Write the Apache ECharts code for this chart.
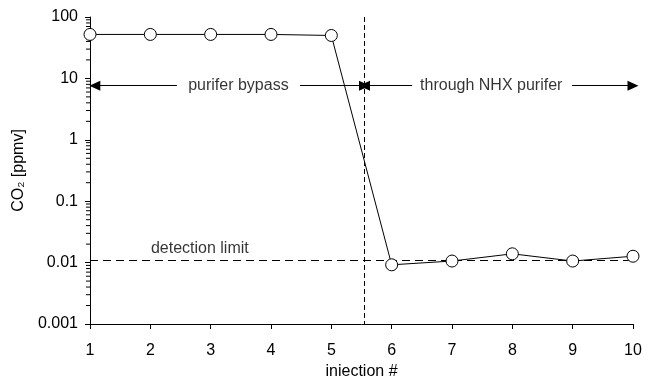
<!DOCTYPE html>
<html><head><meta charset="utf-8">
<script src="https://cdn.jsdelivr.net/npm/echarts@6/dist/echarts.min.js"></script>
<style>html,body{margin:0;padding:0;background:#fff}#c{width:648px;height:376px}</style>
</head><body><div id="c"></div>
<script>
const injections = [1, 2, 3, 4, 5, 6, 7, 8, 9, 10];
const co2 = [52, 52, 52, 52, 50, 0.0092, 0.0106, 0.0139, 0.0106, 0.0127];
const yTicks = [0.001, 0.01, 0.1, 1, 10, 100];
const detectionLimit = 0.0111;
const switchPoint = 5.55;
const arrowLevel = 7.6;
const labels = { bypass: 'purifer bypass', through: 'through NHX purifer', detection: 'detection limit' };

const minorVals = [];
for (let k = 0; k < yTicks.length - 1; k++) {
  for (let m = 2; m <= 9; m++) minorVals.push([1, m * yTicks[k]]);
}
const font = '"Liberation Sans", Arial, sans-serif';
const ink = '#000';

const seg = (a, b, symA, symB) => [
  { coord: a, symbol: symA, symbolSize: [10, 11] },
  { coord: b, symbol: symB, symbolSize: [10, 11] }
];

const option = {
  animation: false,
  grid: { left: 90, right: 15, top: 17, bottom: 52, containLabel: false, outerBoundsMode: 'none' },
  xAxis: {
    type: 'value', min: 1, max: 10, interval: 1,
    name: 'iniection #', nameLocation: 'middle', nameGap: 37,
    nameTextStyle: { fontFamily: font, fontSize: 16, color: ink },
    axisLine: { lineStyle: { color: ink, width: 1 } },
    axisTick: { inside: false, length: 5, lineStyle: { color: ink } },
    axisLabel: { margin: 19, fontFamily: font, fontSize: 16, color: ink },
    splitLine: { show: false }
  },
  yAxis: {
    type: 'log', logBase: 10, min: 0.001, max: 100,
    name: 'CO₂ [ppmv]', nameLocation: 'middle', nameGap: 57,
    nameTextStyle: { fontFamily: font, fontSize: 16, color: ink },
    axisLine: { show: true, lineStyle: { color: ink, width: 1 } },
    axisTick: { show: true, inside: false, length: 5, lineStyle: { color: ink } },
    axisLabel: {
      margin: 12, fontFamily: font, fontSize: 16, color: ink,
      formatter: v => { const i = yTicks.findIndex(t => Math.abs(t - v) / t < 1e-6); return i >= 0 ? String(yTicks[i]) : ''; }
    },
    splitLine: { show: false }
  },
  series: [
    {
      type: 'custom', silent: true, data: minorVals, clip: false,
      encode: { x: 0, y: 1 },
      renderItem: (params, api) => {
        const p = api.coord([api.value(0), api.value(1)]);
        return { type: 'line', shape: { x1: p[0], y1: p[1], x2: p[0] - 4, y2: p[1] }, style: { stroke: ink, lineWidth: 1 } };
      },
      z: 1
    },
    {
      type: 'line', silent: true,
      data: injections.map((x, i) => [x, co2[i]]),
      symbol: 'circle', symbolSize: 12,
      lineStyle: { color: ink, width: 1 },
      itemStyle: { color: '#fff', borderColor: ink, borderWidth: 1 },
      z: 5,
      markLine: {
        silent: true, animation: false, label: { show: false },
        data: [
          [{ coord: [1, detectionLimit], symbol: 'none', lineStyle: { type: [8, 5], color: ink, width: 1 } }, { coord: [10, detectionLimit], symbol: 'none' }],
          [{ coord: [switchPoint, 100], symbol: 'none', lineStyle: { type: [5, 3], color: ink, width: 1 } }, { coord: [switchPoint, 0.001], symbol: 'none' }]
        ]
      }
    },
    {
      type: 'line', silent: true, data: [], z: 4,
      markLine: {
        silent: true, animation: false, label: { show: false },
        lineStyle: { type: 'solid', color: ink, width: 1 },
        itemStyle: { color: ink },
        data: [
          seg([1.08, arrowLevel], [2.44, arrowLevel], 'triangle', 'none'),
          seg([4.48, arrowLevel], [switchPoint, arrowLevel], 'none', 'triangle'),
          seg([switchPoint, arrowLevel], [6.34, arrowLevel], 'triangle', 'none'),
          seg([8.99, arrowLevel], [10, arrowLevel], 'none', 'triangle')
        ]
      }
    },
    {
      type: 'scatter', silent: true, symbolSize: 0, z: 6,
      data: [
        { value: [3.46, arrowLevel], name: labels.bypass },
        { value: [7.65, arrowLevel], name: labels.through }
      ],
      label: { show: true, position: 'inside', formatter: p => p.name, fontFamily: font, fontSize: 16, color: ink }
    },
    {
      type: 'scatter', silent: true, symbolSize: 0, z: 6,
      data: [{ value: [2.82, detectionLimit], name: labels.detection }],
      label: { show: true, position: 'top', distance: 3, formatter: p => p.name, fontFamily: font, fontSize: 16, color: ink }
    }
  ]
};
const chart = echarts.init(document.getElementById('c'), null, { renderer: 'canvas' });
chart.setOption(option);
</script></body></html>
